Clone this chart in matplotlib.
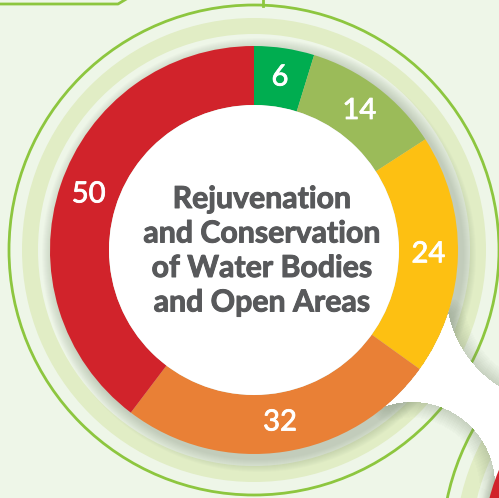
"""
Donut chart: Rejuvenation and Conservation of Water Bodies and Open Areas.
"""

import numpy as np
import matplotlib
matplotlib.use("Agg")
import matplotlib.pyplot as plt
import matplotlib.patheffects as pe
from matplotlib.patches import Circle, Wedge

# chart data (clockwise from 12 o'clock)
values = [6, 14, 24, 32, 50]
colours = ["#00AD50", "#9BBB59", "#FDC012", "#E98036", "#D1232B"]
title_lines = ["Rejuvenation", "and Conservation", "of Water Bodies", "and Open Areas"]

W_PX, H_PX = 499, 498
BG = "#EEF6E8"
BAND = "#E1EDC5"
LINE = "#8DC63F"
TEXT = "#58595B"

# geometry in pixel units (y up)
main_c = (254, 248)
next_c = (687, -51)      # the neighbouring chart, mostly off the picture
r_out, r_in = 204, 145


def halo(ax, c, z=1):
    """pale band, green ring and drop shadow around a donut"""
    ax.add_patch(Wedge(c, 232, 0, 360, width=16, color=BAND, lw=0, zorder=z))
    ax.add_patch(Circle(c, 245, fill=False, ec=LINE, lw=2.0, zorder=z))
    for k in range(13, 0, -1):
        ax.add_patch(Circle((c[0] + 5, c[1] - 5), r_out + k, color="#6F7F66",
                            alpha=0.028, lw=0, zorder=z + 0.1))


def white_gap():
    """raster of the white connector shape with a soft inner shadow"""
    yy, xx = np.mgrid[0:H_PX, 0:W_PX] + 0.5
    yy = H_PX - yy  # y up
    d_main = np.hypot(xx - main_c[0], yy - main_c[1])
    d_b = np.hypot(xx - 560, yy - 208)
    d_c = np.hypot(xx - 412, yy - 13)
    gap = (xx > 380) & (yy < 218) & (d_main >= r_out) & (d_b >= 114) & (d_c >= 83)

    dist = np.full(gap.shape, np.inf)
    cur = gap.copy()
    for k in range(1, 16):
        nb = cur.copy()
        nb[1:, :] |= cur[:-1, :]
        nb[:-1, :] |= cur[1:, :]
        nb[:, 1:] |= cur[:, :-1]
        nb[:, :-1] |= cur[:, 1:]
        if k % 2 == 0:
            nb[1:, 1:] |= cur[:-1, :-1]
            nb[:-1, :-1] |= cur[1:, 1:]
            nb[1:, :-1] |= cur[:-1, 1:]
            nb[:-1, 1:] |= cur[1:, :-1]
        dist[nb & ~cur] = k
        cur = nb

    rgba = np.zeros((H_PX, W_PX, 4))
    shade = np.isfinite(dist) & (d_main > r_out)
    rgba[shade, :3] = np.array([110, 125, 100]) / 255
    rgba[shade, 3] = 0.32 * (1 - dist[shade] / 16)
    rgba[gap] = [1, 1, 1, 1]
    return rgba


fig = plt.figure(figsize=(W_PX / 100, H_PX / 100), dpi=100, facecolor=BG)
ax = fig.add_axes([0, 0, 1, 1])
ax.set_facecolor(BG)

# frame lines of the surrounding layout
ax.plot([0, 118, 128], [494, 494, 500], color=LINE, lw=2.0, zorder=1)
ax.plot([263, 263], [498, 492], color=LINE, lw=2.0, zorder=1)

halo(ax, main_c)
halo(ax, next_c)

# white gap between the circles
ax.imshow(white_gap(), extent=(0, W_PX, 0, H_PX), origin="upper",
          interpolation="bilinear", zorder=2)

# the next chart's red ring peeking in at the corner
ax.add_patch(Wedge(next_c, r_out, 0, 360, width=r_out - r_in, color="#D1232B", lw=0, zorder=3))

total = sum(values)
wedges, _, labels = ax.pie(
    values, colors=colours, startangle=90, counterclock=False,
    radius=r_out, center=main_c,
    wedgeprops=dict(width=r_out - r_in, edgecolor="none", linewidth=0),
    autopct=lambda p: f"{p * total / 100:.0f}", pctdistance=0.855,
    textprops=dict(color="white", fontsize=21, family="Lato"))
for w in wedges:
    w.set_zorder(4)
for t in labels:
    t.set_zorder(5)
    t.set_path_effects([pe.withStroke(linewidth=0.6, foreground="white")])

ax.add_patch(Circle(main_c, r_in, color="white", lw=0, zorder=4))

# centre title
for i, line in enumerate(title_lines):
    ax.text(262, 290 - i * 34.5, line, ha="center", va="baseline",
            fontsize=21.8, fontweight="bold", family="Lato", color=TEXT, zorder=6,
            path_effects=[pe.withStroke(linewidth=0.7, foreground=TEXT)])

ax.set_xlim(0, W_PX)
ax.set_ylim(0, H_PX)
ax.set_aspect("auto")
ax.axis("off")

fig.savefig("out.png", dpi=100, facecolor=BG)
